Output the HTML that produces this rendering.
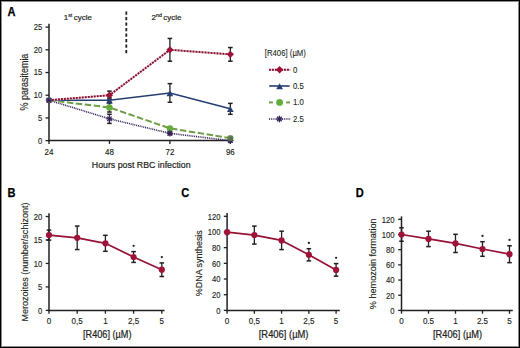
<!DOCTYPE html>
<html><head><meta charset="utf-8"><style>
html,body{margin:0;padding:0;background:#fff;}
svg{display:block;font-family:"Liberation Sans", sans-serif;}
</style></head><body>
<svg width="520" height="348" viewBox="0 0 520 348">
<rect x="0" y="0" width="520" height="348" fill="#fff"/>
<text x="7.5" y="16.1" font-size="11.9" text-anchor="start" font-weight="bold" fill="#000" textLength="7.99" lengthAdjust="spacingAndGlyphs" stroke="#000" stroke-width="0.25">A</text>
<text x="63.8" y="20.3" font-size="8" fill="#231f20" stroke="#231f20" stroke-width="0.2">1<tspan font-size="5.2" dy="-3">st</tspan><tspan dy="3" dx="1.4">cycle</tspan></text>
<text x="151.6" y="20.3" font-size="8" fill="#231f20" stroke="#231f20" stroke-width="0.2">2<tspan font-size="5.2" dy="-3">nd</tspan><tspan dy="3" dx="1.4">cycle</tspan></text>
<line x1="126.30" y1="11.40" x2="126.30" y2="53.50" stroke="#231f20" stroke-width="1.8" stroke-linecap="butt" stroke-dasharray="3.4 2.1"/>
<line x1="49.00" y1="23.80" x2="49.00" y2="141.40" stroke="#231f20" stroke-width="1.5" stroke-linecap="butt"/>
<line x1="48.25" y1="140.62" x2="230.80" y2="140.62" stroke="#231f20" stroke-width="1.5" stroke-linecap="butt"/>
<line x1="45.50" y1="140.62" x2="49.00" y2="140.62" stroke="#231f20" stroke-width="1.3" stroke-linecap="butt"/>
<text x="42.3" y="143.52" font-size="8.3" text-anchor="end" font-weight="normal" fill="#231f20" textLength="4.25" lengthAdjust="spacingAndGlyphs" stroke="#231f20" stroke-width="0.14">0</text>
<line x1="45.50" y1="117.92" x2="49.00" y2="117.92" stroke="#231f20" stroke-width="1.3" stroke-linecap="butt"/>
<text x="42.3" y="120.82000000000001" font-size="8.3" text-anchor="end" font-weight="normal" fill="#231f20" textLength="4.25" lengthAdjust="spacingAndGlyphs" stroke="#231f20" stroke-width="0.14">5</text>
<line x1="45.50" y1="95.22" x2="49.00" y2="95.22" stroke="#231f20" stroke-width="1.3" stroke-linecap="butt"/>
<text x="42.3" y="98.12" font-size="8.3" text-anchor="end" font-weight="normal" fill="#231f20" textLength="8.49" lengthAdjust="spacingAndGlyphs" stroke="#231f20" stroke-width="0.14">10</text>
<line x1="45.50" y1="72.52" x2="49.00" y2="72.52" stroke="#231f20" stroke-width="1.3" stroke-linecap="butt"/>
<text x="42.3" y="75.42000000000002" font-size="8.3" text-anchor="end" font-weight="normal" fill="#231f20" textLength="8.49" lengthAdjust="spacingAndGlyphs" stroke="#231f20" stroke-width="0.14">15</text>
<line x1="45.50" y1="49.82" x2="49.00" y2="49.82" stroke="#231f20" stroke-width="1.3" stroke-linecap="butt"/>
<text x="42.3" y="52.720000000000006" font-size="8.3" text-anchor="end" font-weight="normal" fill="#231f20" textLength="8.49" lengthAdjust="spacingAndGlyphs" stroke="#231f20" stroke-width="0.14">20</text>
<line x1="45.50" y1="27.12" x2="49.00" y2="27.12" stroke="#231f20" stroke-width="1.3" stroke-linecap="butt"/>
<text x="42.3" y="30.020000000000003" font-size="8.3" text-anchor="end" font-weight="normal" fill="#231f20" textLength="8.49" lengthAdjust="spacingAndGlyphs" stroke="#231f20" stroke-width="0.14">25</text>
<line x1="49.00" y1="140.65" x2="49.00" y2="143.90" stroke="#231f20" stroke-width="1.3" stroke-linecap="butt"/>
<text x="49.0" y="154.8" font-size="8.6" text-anchor="middle" font-weight="normal" fill="#231f20" textLength="8.8" lengthAdjust="spacingAndGlyphs" stroke="#231f20" stroke-width="0.16">24</text>
<line x1="109.45" y1="140.65" x2="109.45" y2="143.90" stroke="#231f20" stroke-width="1.3" stroke-linecap="butt"/>
<text x="109.45000000000002" y="154.8" font-size="8.6" text-anchor="middle" font-weight="normal" fill="#231f20" textLength="8.8" lengthAdjust="spacingAndGlyphs" stroke="#231f20" stroke-width="0.16">48</text>
<line x1="169.90" y1="140.65" x2="169.90" y2="143.90" stroke="#231f20" stroke-width="1.3" stroke-linecap="butt"/>
<text x="169.90000000000003" y="154.8" font-size="8.6" text-anchor="middle" font-weight="normal" fill="#231f20" textLength="8.8" lengthAdjust="spacingAndGlyphs" stroke="#231f20" stroke-width="0.16">72</text>
<line x1="230.35" y1="140.65" x2="230.35" y2="143.90" stroke="#231f20" stroke-width="1.3" stroke-linecap="butt"/>
<text x="230.35000000000002" y="154.8" font-size="8.6" text-anchor="middle" font-weight="normal" fill="#231f20" textLength="8.8" lengthAdjust="spacingAndGlyphs" stroke="#231f20" stroke-width="0.16">96</text>
<text x="91.8" y="167.6" font-size="9.8" text-anchor="start" font-weight="normal" fill="#231f20" textLength="98.8" lengthAdjust="spacingAndGlyphs" stroke="#231f20" stroke-width="0.22">Hours post RBC infection</text>
<text x="28.2" y="110.6" font-size="10.2" text-anchor="start" font-weight="normal" fill="#231f20" textLength="57.0" lengthAdjust="spacingAndGlyphs" transform="rotate(-90 28.2 110.6)" stroke="#231f20" stroke-width="0.15">% parasitemia</text>
<line x1="49.00" y1="98.85" x2="49.00" y2="101.58" stroke="#231f20" stroke-width="1.3" stroke-linecap="butt"/>
<line x1="46.70" y1="98.85" x2="51.30" y2="98.85" stroke="#231f20" stroke-width="1.5" stroke-linecap="butt"/>
<line x1="46.70" y1="101.58" x2="51.30" y2="101.58" stroke="#231f20" stroke-width="1.5" stroke-linecap="butt"/>
<line x1="109.45" y1="91.12" x2="109.45" y2="99.31" stroke="#231f20" stroke-width="1.3" stroke-linecap="butt"/>
<line x1="107.15" y1="91.12" x2="111.75" y2="91.12" stroke="#231f20" stroke-width="1.5" stroke-linecap="butt"/>
<line x1="107.15" y1="99.31" x2="111.75" y2="99.31" stroke="#231f20" stroke-width="1.5" stroke-linecap="butt"/>
<line x1="169.90" y1="38.45" x2="169.90" y2="61.20" stroke="#231f20" stroke-width="1.3" stroke-linecap="butt"/>
<line x1="167.60" y1="38.45" x2="172.20" y2="38.45" stroke="#231f20" stroke-width="1.5" stroke-linecap="butt"/>
<line x1="167.60" y1="61.20" x2="172.20" y2="61.20" stroke="#231f20" stroke-width="1.5" stroke-linecap="butt"/>
<line x1="230.35" y1="47.53" x2="230.35" y2="61.19" stroke="#231f20" stroke-width="1.3" stroke-linecap="butt"/>
<line x1="228.05" y1="47.53" x2="232.65" y2="47.53" stroke="#231f20" stroke-width="1.5" stroke-linecap="butt"/>
<line x1="228.05" y1="61.19" x2="232.65" y2="61.19" stroke="#231f20" stroke-width="1.5" stroke-linecap="butt"/>
<line x1="49.00" y1="98.85" x2="49.00" y2="101.58" stroke="#231f20" stroke-width="1.3" stroke-linecap="butt"/>
<line x1="46.70" y1="98.85" x2="51.30" y2="98.85" stroke="#231f20" stroke-width="1.5" stroke-linecap="butt"/>
<line x1="46.70" y1="101.58" x2="51.30" y2="101.58" stroke="#231f20" stroke-width="1.5" stroke-linecap="butt"/>
<line x1="109.45" y1="97.94" x2="109.45" y2="102.49" stroke="#231f20" stroke-width="1.3" stroke-linecap="butt"/>
<line x1="107.15" y1="97.94" x2="111.75" y2="97.94" stroke="#231f20" stroke-width="1.5" stroke-linecap="butt"/>
<line x1="107.15" y1="102.49" x2="111.75" y2="102.49" stroke="#231f20" stroke-width="1.5" stroke-linecap="butt"/>
<line x1="169.90" y1="83.62" x2="169.90" y2="102.28" stroke="#231f20" stroke-width="1.3" stroke-linecap="butt"/>
<line x1="167.60" y1="83.62" x2="172.20" y2="83.62" stroke="#231f20" stroke-width="1.5" stroke-linecap="butt"/>
<line x1="167.60" y1="102.28" x2="172.20" y2="102.28" stroke="#231f20" stroke-width="1.5" stroke-linecap="butt"/>
<line x1="230.35" y1="103.38" x2="230.35" y2="114.30" stroke="#231f20" stroke-width="1.3" stroke-linecap="butt"/>
<line x1="228.05" y1="103.38" x2="232.65" y2="103.38" stroke="#231f20" stroke-width="1.5" stroke-linecap="butt"/>
<line x1="228.05" y1="114.30" x2="232.65" y2="114.30" stroke="#231f20" stroke-width="1.5" stroke-linecap="butt"/>
<line x1="49.00" y1="98.85" x2="49.00" y2="101.58" stroke="#231f20" stroke-width="1.3" stroke-linecap="butt"/>
<line x1="46.70" y1="98.85" x2="51.30" y2="98.85" stroke="#231f20" stroke-width="1.5" stroke-linecap="butt"/>
<line x1="46.70" y1="101.58" x2="51.30" y2="101.58" stroke="#231f20" stroke-width="1.5" stroke-linecap="butt"/>
<line x1="109.45" y1="102.93" x2="109.45" y2="112.03" stroke="#231f20" stroke-width="1.3" stroke-linecap="butt"/>
<line x1="107.15" y1="102.93" x2="111.75" y2="102.93" stroke="#231f20" stroke-width="1.5" stroke-linecap="butt"/>
<line x1="107.15" y1="112.03" x2="111.75" y2="112.03" stroke="#231f20" stroke-width="1.5" stroke-linecap="butt"/>
<line x1="169.90" y1="127.00" x2="169.90" y2="129.73" stroke="#231f20" stroke-width="1.3" stroke-linecap="butt"/>
<line x1="167.60" y1="127.00" x2="172.20" y2="127.00" stroke="#231f20" stroke-width="1.5" stroke-linecap="butt"/>
<line x1="167.60" y1="129.73" x2="172.20" y2="129.73" stroke="#231f20" stroke-width="1.5" stroke-linecap="butt"/>
<line x1="230.35" y1="137.21" x2="230.35" y2="139.03" stroke="#231f20" stroke-width="1.3" stroke-linecap="butt"/>
<line x1="228.05" y1="137.21" x2="232.65" y2="137.21" stroke="#231f20" stroke-width="1.5" stroke-linecap="butt"/>
<line x1="228.05" y1="139.03" x2="232.65" y2="139.03" stroke="#231f20" stroke-width="1.5" stroke-linecap="butt"/>
<line x1="49.00" y1="98.85" x2="49.00" y2="101.58" stroke="#231f20" stroke-width="1.3" stroke-linecap="butt"/>
<line x1="46.70" y1="98.85" x2="51.30" y2="98.85" stroke="#231f20" stroke-width="1.5" stroke-linecap="butt"/>
<line x1="46.70" y1="101.58" x2="51.30" y2="101.58" stroke="#231f20" stroke-width="1.5" stroke-linecap="butt"/>
<line x1="109.45" y1="114.28" x2="109.45" y2="123.38" stroke="#231f20" stroke-width="1.3" stroke-linecap="butt"/>
<line x1="107.15" y1="114.28" x2="111.75" y2="114.28" stroke="#231f20" stroke-width="1.5" stroke-linecap="butt"/>
<line x1="107.15" y1="123.38" x2="111.75" y2="123.38" stroke="#231f20" stroke-width="1.5" stroke-linecap="butt"/>
<line x1="169.90" y1="131.99" x2="169.90" y2="134.72" stroke="#231f20" stroke-width="1.3" stroke-linecap="butt"/>
<line x1="167.60" y1="131.99" x2="172.20" y2="131.99" stroke="#231f20" stroke-width="1.5" stroke-linecap="butt"/>
<line x1="167.60" y1="134.72" x2="172.20" y2="134.72" stroke="#231f20" stroke-width="1.5" stroke-linecap="butt"/>
<line x1="230.35" y1="139.25" x2="230.35" y2="141.99" stroke="#231f20" stroke-width="1.3" stroke-linecap="butt"/>
<line x1="228.05" y1="139.25" x2="232.65" y2="139.25" stroke="#231f20" stroke-width="1.5" stroke-linecap="butt"/>
<line x1="228.05" y1="141.99" x2="232.65" y2="141.99" stroke="#231f20" stroke-width="1.5" stroke-linecap="butt"/>
<polyline points="49.00,100.21 109.45,118.83 169.90,133.36 230.35,140.62" fill="none" stroke="#36235a" stroke-width="1.6" stroke-linejoin="round" stroke-dasharray="1.0 0.85"/>
<polyline points="49.00,100.21 109.45,107.48 169.90,128.36 230.35,138.12" fill="none" stroke="#6f9d48" stroke-width="2.0" stroke-linejoin="round" stroke-dasharray="6.5 2.5"/>
<polyline points="49.00,100.21 109.45,100.21 169.90,92.95 230.35,108.84" fill="none" stroke="#263f70" stroke-width="1.6" stroke-linejoin="round"/>
<polyline points="49.00,100.21 109.45,95.22 169.90,49.82 230.35,54.36" fill="none" stroke="#f0c0cb" stroke-width="1.9" stroke-linejoin="round"/>
<polyline points="49.00,100.21 109.45,95.22 169.90,49.82 230.35,54.36" fill="none" stroke="#7f1131" stroke-width="1.9" stroke-linejoin="round" stroke-dasharray="1.9 1.1"/>
<polygon points="109.45,91.62 113.05,95.22 109.45,98.82 105.85,95.22" fill="#9e1337"/>
<polygon points="169.90,46.22 173.50,49.82 169.90,53.42 166.30,49.82" fill="#9e1337"/>
<polygon points="230.35,50.76 233.95,54.36 230.35,57.96 226.75,54.36" fill="#9e1337"/>
<polygon points="109.45,97.51 112.85,103.41 106.05,103.41" fill="#263f70"/>
<polygon points="169.90,90.25 173.30,96.15 166.50,96.15" fill="#263f70"/>
<polygon points="230.35,106.14 233.75,112.04 226.95,112.04" fill="#263f70"/>
<circle cx="109.45" cy="107.48" r="3.2" fill="#64ad3c"/>
<circle cx="169.90" cy="128.36" r="3.2" fill="#64ad3c"/>
<circle cx="49.00" cy="100.21" r="2.9" fill="#8a8a92"/>
<line x1="45.80" y1="100.21" x2="52.20" y2="100.21" stroke="#36235a" stroke-width="1.2" stroke-linecap="butt"/>
<line x1="46.74" y1="97.95" x2="51.26" y2="102.48" stroke="#36235a" stroke-width="1.2" stroke-linecap="butt"/>
<line x1="49.00" y1="97.01" x2="49.00" y2="103.41" stroke="#36235a" stroke-width="1.2" stroke-linecap="butt"/>
<line x1="51.26" y1="97.95" x2="46.74" y2="102.48" stroke="#36235a" stroke-width="1.2" stroke-linecap="butt"/>
<line x1="106.25" y1="118.83" x2="112.65" y2="118.83" stroke="#36235a" stroke-width="1.2" stroke-linecap="butt"/>
<line x1="107.19" y1="116.57" x2="111.71" y2="121.09" stroke="#36235a" stroke-width="1.2" stroke-linecap="butt"/>
<line x1="109.45" y1="115.63" x2="109.45" y2="122.03" stroke="#36235a" stroke-width="1.2" stroke-linecap="butt"/>
<line x1="111.71" y1="116.57" x2="107.19" y2="121.09" stroke="#36235a" stroke-width="1.2" stroke-linecap="butt"/>
<line x1="166.70" y1="133.36" x2="173.10" y2="133.36" stroke="#36235a" stroke-width="1.2" stroke-linecap="butt"/>
<line x1="167.64" y1="131.09" x2="172.16" y2="135.62" stroke="#36235a" stroke-width="1.2" stroke-linecap="butt"/>
<line x1="169.90" y1="130.16" x2="169.90" y2="136.56" stroke="#36235a" stroke-width="1.2" stroke-linecap="butt"/>
<line x1="172.16" y1="131.09" x2="167.64" y2="135.62" stroke="#36235a" stroke-width="1.2" stroke-linecap="butt"/>
<line x1="227.15" y1="140.62" x2="233.55" y2="140.62" stroke="#36235a" stroke-width="1.2" stroke-linecap="butt"/>
<line x1="228.09" y1="138.36" x2="232.61" y2="142.88" stroke="#36235a" stroke-width="1.2" stroke-linecap="butt"/>
<line x1="230.35" y1="137.42" x2="230.35" y2="143.82" stroke="#36235a" stroke-width="1.2" stroke-linecap="butt"/>
<line x1="232.61" y1="138.36" x2="228.09" y2="142.88" stroke="#36235a" stroke-width="1.2" stroke-linecap="butt"/>
<circle cx="230.35" cy="138.12" r="3.2" fill="#5e7d4a" fill-opacity="0.85"/>
<text x="264.8" y="56.4" font-size="8.8" text-anchor="start" font-weight="normal" fill="#231f20" textLength="41.1" lengthAdjust="spacingAndGlyphs" stroke="#231f20" stroke-width="0.1">[R406] (µM)</text>
<line x1="269.00" y1="69.80" x2="290.20" y2="69.80" stroke="#f0c0cb" stroke-width="1.9" stroke-linecap="butt"/>
<line x1="269.00" y1="69.80" x2="290.20" y2="69.80" stroke="#7f1131" stroke-width="1.9" stroke-linecap="butt" stroke-dasharray="1.9 1.1"/>
<polygon points="279.60,66.10 283.30,69.80 279.60,73.50 275.90,69.80" fill="#9e1337"/>
<text x="292.9" y="72.5" font-size="8.2" text-anchor="start" font-weight="normal" fill="#231f20" textLength="4.33" lengthAdjust="spacingAndGlyphs" stroke="#231f20" stroke-width="0.1">0</text>
<line x1="269.20" y1="86.00" x2="289.60" y2="86.00" stroke="#263f70" stroke-width="1.6" stroke-linecap="butt"/>
<polygon points="279.60,83.30 283.00,89.20 276.20,89.20" fill="#263f70"/>
<text x="292.9" y="88.7" font-size="8.2" text-anchor="start" font-weight="normal" fill="#231f20" textLength="10.83" lengthAdjust="spacingAndGlyphs" stroke="#231f20" stroke-width="0.1">0.5</text>
<line x1="269.00" y1="102.40" x2="272.90" y2="102.40" stroke="#6f9d48" stroke-width="2.0" stroke-linecap="butt"/>
<line x1="286.10" y1="102.40" x2="290.00" y2="102.40" stroke="#6f9d48" stroke-width="2.0" stroke-linecap="butt"/>
<circle cx="279.60" cy="102.40" r="3.4" fill="#64ad3c"/>
<text x="292.9" y="105.10000000000001" font-size="8.2" text-anchor="start" font-weight="normal" fill="#231f20" textLength="10.83" lengthAdjust="spacingAndGlyphs" stroke="#231f20" stroke-width="0.1">1.0</text>
<line x1="269.00" y1="119.00" x2="290.20" y2="119.00" stroke="#36235a" stroke-width="1.6" stroke-linecap="butt" stroke-dasharray="1.0 0.85"/>
<line x1="276.10" y1="119.00" x2="282.70" y2="119.00" stroke="#36235a" stroke-width="1.3" stroke-linecap="butt"/>
<line x1="277.07" y1="116.67" x2="281.73" y2="121.33" stroke="#36235a" stroke-width="1.3" stroke-linecap="butt"/>
<line x1="279.40" y1="115.70" x2="279.40" y2="122.30" stroke="#36235a" stroke-width="1.3" stroke-linecap="butt"/>
<line x1="281.73" y1="116.67" x2="277.07" y2="121.33" stroke="#36235a" stroke-width="1.3" stroke-linecap="butt"/>
<text x="292.9" y="121.7" font-size="8.2" text-anchor="start" font-weight="normal" fill="#231f20" textLength="10.83" lengthAdjust="spacingAndGlyphs" stroke="#231f20" stroke-width="0.1">2.5</text>
<text x="7.6" y="196.6" font-size="11.9" text-anchor="start" font-weight="bold" fill="#000" textLength="7.99" lengthAdjust="spacingAndGlyphs" stroke="#000" stroke-width="0.25">B</text>
<line x1="49.00" y1="213.30" x2="49.00" y2="311.15" stroke="#231f20" stroke-width="1.5" stroke-linecap="butt"/>
<line x1="48.30" y1="310.40" x2="164.50" y2="310.40" stroke="#231f20" stroke-width="1.5" stroke-linecap="butt"/>
<line x1="45.70" y1="310.40" x2="49.00" y2="310.40" stroke="#231f20" stroke-width="1.3" stroke-linecap="butt"/>
<text x="42.2" y="313.7" font-size="8.3" text-anchor="end" font-weight="normal" fill="#231f20" textLength="4.25" lengthAdjust="spacingAndGlyphs" stroke="#231f20" stroke-width="0.14">0</text>
<line x1="45.70" y1="286.92" x2="49.00" y2="286.92" stroke="#231f20" stroke-width="1.3" stroke-linecap="butt"/>
<text x="42.2" y="290.22499999999997" font-size="8.3" text-anchor="end" font-weight="normal" fill="#231f20" textLength="4.25" lengthAdjust="spacingAndGlyphs" stroke="#231f20" stroke-width="0.14">5</text>
<line x1="45.70" y1="263.45" x2="49.00" y2="263.45" stroke="#231f20" stroke-width="1.3" stroke-linecap="butt"/>
<text x="42.2" y="266.75" font-size="8.3" text-anchor="end" font-weight="normal" fill="#231f20" textLength="8.49" lengthAdjust="spacingAndGlyphs" stroke="#231f20" stroke-width="0.14">10</text>
<line x1="45.70" y1="239.97" x2="49.00" y2="239.97" stroke="#231f20" stroke-width="1.3" stroke-linecap="butt"/>
<text x="42.2" y="243.27499999999998" font-size="8.3" text-anchor="end" font-weight="normal" fill="#231f20" textLength="8.49" lengthAdjust="spacingAndGlyphs" stroke="#231f20" stroke-width="0.14">15</text>
<line x1="45.70" y1="216.50" x2="49.00" y2="216.50" stroke="#231f20" stroke-width="1.3" stroke-linecap="butt"/>
<text x="42.2" y="219.79999999999998" font-size="8.3" text-anchor="end" font-weight="normal" fill="#231f20" textLength="8.49" lengthAdjust="spacingAndGlyphs" stroke="#231f20" stroke-width="0.14">20</text>
<line x1="49.00" y1="310.40" x2="49.00" y2="313.70" stroke="#231f20" stroke-width="1.3" stroke-linecap="butt"/>
<text x="49.0" y="324.1" font-size="8.5" text-anchor="middle" font-weight="normal" fill="#231f20" textLength="4.49" lengthAdjust="spacingAndGlyphs" stroke="#231f20" stroke-width="0.14">0</text>
<line x1="77.20" y1="310.40" x2="77.20" y2="313.70" stroke="#231f20" stroke-width="1.3" stroke-linecap="butt"/>
<text x="77.2" y="324.1" font-size="8.5" text-anchor="middle" font-weight="normal" fill="#231f20" textLength="11.22" lengthAdjust="spacingAndGlyphs" stroke="#231f20" stroke-width="0.14">0,5</text>
<line x1="105.40" y1="310.40" x2="105.40" y2="313.70" stroke="#231f20" stroke-width="1.3" stroke-linecap="butt"/>
<text x="105.4" y="324.1" font-size="8.5" text-anchor="middle" font-weight="normal" fill="#231f20" textLength="4.49" lengthAdjust="spacingAndGlyphs" stroke="#231f20" stroke-width="0.14">1</text>
<line x1="133.60" y1="310.40" x2="133.60" y2="313.70" stroke="#231f20" stroke-width="1.3" stroke-linecap="butt"/>
<text x="133.6" y="324.1" font-size="8.5" text-anchor="middle" font-weight="normal" fill="#231f20" textLength="11.22" lengthAdjust="spacingAndGlyphs" stroke="#231f20" stroke-width="0.14">2,5</text>
<line x1="161.80" y1="310.40" x2="161.80" y2="313.70" stroke="#231f20" stroke-width="1.3" stroke-linecap="butt"/>
<text x="161.8" y="324.1" font-size="8.5" text-anchor="middle" font-weight="normal" fill="#231f20" textLength="4.49" lengthAdjust="spacingAndGlyphs" stroke="#231f20" stroke-width="0.14">5</text>
<text x="83" y="338.3" font-size="10" text-anchor="start" font-weight="normal" fill="#231f20" textLength="48.5" lengthAdjust="spacingAndGlyphs" stroke="#231f20" stroke-width="0.22">[R406] (µM)</text>
<text x="28.0" y="321.5" font-size="9.9" text-anchor="start" font-weight="normal" fill="#231f20" textLength="119.0" lengthAdjust="spacingAndGlyphs" transform="rotate(-90 28.0 321.5)" stroke="#231f20" stroke-width="0.14">Merozoites (number/schizont)</text>
<line x1="49.00" y1="230.10" x2="49.00" y2="240.10" stroke="#231f20" stroke-width="1.3" stroke-linecap="butt"/>
<line x1="46.70" y1="230.10" x2="51.30" y2="230.10" stroke="#231f20" stroke-width="1.5" stroke-linecap="butt"/>
<line x1="46.70" y1="240.10" x2="51.30" y2="240.10" stroke="#231f20" stroke-width="1.5" stroke-linecap="butt"/>
<line x1="77.20" y1="226.05" x2="77.20" y2="249.55" stroke="#231f20" stroke-width="1.3" stroke-linecap="butt"/>
<line x1="74.90" y1="226.05" x2="79.50" y2="226.05" stroke="#231f20" stroke-width="1.5" stroke-linecap="butt"/>
<line x1="74.90" y1="249.55" x2="79.50" y2="249.55" stroke="#231f20" stroke-width="1.5" stroke-linecap="butt"/>
<line x1="105.40" y1="235.30" x2="105.40" y2="251.30" stroke="#231f20" stroke-width="1.3" stroke-linecap="butt"/>
<line x1="103.10" y1="235.30" x2="107.70" y2="235.30" stroke="#231f20" stroke-width="1.5" stroke-linecap="butt"/>
<line x1="103.10" y1="251.30" x2="107.70" y2="251.30" stroke="#231f20" stroke-width="1.5" stroke-linecap="butt"/>
<line x1="133.60" y1="251.60" x2="133.60" y2="262.40" stroke="#231f20" stroke-width="1.3" stroke-linecap="butt"/>
<line x1="131.30" y1="251.60" x2="135.90" y2="251.60" stroke="#231f20" stroke-width="1.5" stroke-linecap="butt"/>
<line x1="131.30" y1="262.40" x2="135.90" y2="262.40" stroke="#231f20" stroke-width="1.5" stroke-linecap="butt"/>
<line x1="161.80" y1="262.90" x2="161.80" y2="276.50" stroke="#231f20" stroke-width="1.3" stroke-linecap="butt"/>
<line x1="159.50" y1="262.90" x2="164.10" y2="262.90" stroke="#231f20" stroke-width="1.5" stroke-linecap="butt"/>
<line x1="159.50" y1="276.50" x2="164.10" y2="276.50" stroke="#231f20" stroke-width="1.5" stroke-linecap="butt"/>
<polyline points="49.00,235.10 77.20,237.80 105.40,243.30 133.60,257.00 161.80,269.70" fill="none" stroke="#961236" stroke-width="1.75" stroke-linejoin="round"/>
<circle cx="49.00" cy="235.10" r="3.1" fill="#9e1337"/>
<circle cx="77.20" cy="237.80" r="3.1" fill="#9e1337"/>
<circle cx="105.40" cy="243.30" r="3.1" fill="#9e1337"/>
<circle cx="133.60" cy="257.00" r="3.1" fill="#9e1337"/>
<circle cx="161.80" cy="269.70" r="3.1" fill="#9e1337"/>
<circle cx="133.60" cy="245.80" r="1.15" fill="#231f20"/>
<circle cx="161.80" cy="257.10" r="1.15" fill="#231f20"/>
<text x="181.2" y="196.6" font-size="11.9" text-anchor="start" font-weight="bold" fill="#000" textLength="7.99" lengthAdjust="spacingAndGlyphs" stroke="#000" stroke-width="0.25">C</text>
<line x1="227.10" y1="213.10" x2="227.10" y2="311.15" stroke="#231f20" stroke-width="1.5" stroke-linecap="butt"/>
<line x1="226.40" y1="310.40" x2="339.80" y2="310.40" stroke="#231f20" stroke-width="1.5" stroke-linecap="butt"/>
<line x1="223.80" y1="310.40" x2="227.10" y2="310.40" stroke="#231f20" stroke-width="1.3" stroke-linecap="butt"/>
<text x="220.6" y="313.7" font-size="8.3" text-anchor="end" font-weight="normal" fill="#231f20" textLength="4.25" lengthAdjust="spacingAndGlyphs" stroke="#231f20" stroke-width="0.14">0</text>
<line x1="223.80" y1="294.72" x2="227.10" y2="294.72" stroke="#231f20" stroke-width="1.3" stroke-linecap="butt"/>
<text x="220.6" y="298.01599999999996" font-size="8.3" text-anchor="end" font-weight="normal" fill="#231f20" textLength="8.49" lengthAdjust="spacingAndGlyphs" stroke="#231f20" stroke-width="0.14">20</text>
<line x1="223.80" y1="279.03" x2="227.10" y2="279.03" stroke="#231f20" stroke-width="1.3" stroke-linecap="butt"/>
<text x="220.6" y="282.332" font-size="8.3" text-anchor="end" font-weight="normal" fill="#231f20" textLength="8.49" lengthAdjust="spacingAndGlyphs" stroke="#231f20" stroke-width="0.14">40</text>
<line x1="223.80" y1="263.35" x2="227.10" y2="263.35" stroke="#231f20" stroke-width="1.3" stroke-linecap="butt"/>
<text x="220.6" y="266.64799999999997" font-size="8.3" text-anchor="end" font-weight="normal" fill="#231f20" textLength="8.49" lengthAdjust="spacingAndGlyphs" stroke="#231f20" stroke-width="0.14">60</text>
<line x1="223.80" y1="247.66" x2="227.10" y2="247.66" stroke="#231f20" stroke-width="1.3" stroke-linecap="butt"/>
<text x="220.6" y="250.964" font-size="8.3" text-anchor="end" font-weight="normal" fill="#231f20" textLength="8.49" lengthAdjust="spacingAndGlyphs" stroke="#231f20" stroke-width="0.14">80</text>
<line x1="223.80" y1="231.98" x2="227.10" y2="231.98" stroke="#231f20" stroke-width="1.3" stroke-linecap="butt"/>
<text x="220.6" y="235.27999999999997" font-size="8.3" text-anchor="end" font-weight="normal" fill="#231f20" textLength="12.74" lengthAdjust="spacingAndGlyphs" stroke="#231f20" stroke-width="0.14">100</text>
<line x1="223.80" y1="216.30" x2="227.10" y2="216.30" stroke="#231f20" stroke-width="1.3" stroke-linecap="butt"/>
<text x="220.6" y="219.596" font-size="8.3" text-anchor="end" font-weight="normal" fill="#231f20" textLength="12.74" lengthAdjust="spacingAndGlyphs" stroke="#231f20" stroke-width="0.14">120</text>
<line x1="227.10" y1="310.40" x2="227.10" y2="313.70" stroke="#231f20" stroke-width="1.3" stroke-linecap="butt"/>
<text x="227.1" y="324.1" font-size="8.5" text-anchor="middle" font-weight="normal" fill="#231f20" textLength="4.49" lengthAdjust="spacingAndGlyphs" stroke="#231f20" stroke-width="0.14">0</text>
<line x1="254.35" y1="310.40" x2="254.35" y2="313.70" stroke="#231f20" stroke-width="1.3" stroke-linecap="butt"/>
<text x="254.35" y="324.1" font-size="8.5" text-anchor="middle" font-weight="normal" fill="#231f20" textLength="11.22" lengthAdjust="spacingAndGlyphs" stroke="#231f20" stroke-width="0.14">0,5</text>
<line x1="281.60" y1="310.40" x2="281.60" y2="313.70" stroke="#231f20" stroke-width="1.3" stroke-linecap="butt"/>
<text x="281.6" y="324.1" font-size="8.5" text-anchor="middle" font-weight="normal" fill="#231f20" textLength="4.49" lengthAdjust="spacingAndGlyphs" stroke="#231f20" stroke-width="0.14">1</text>
<line x1="308.85" y1="310.40" x2="308.85" y2="313.70" stroke="#231f20" stroke-width="1.3" stroke-linecap="butt"/>
<text x="308.85" y="324.1" font-size="8.5" text-anchor="middle" font-weight="normal" fill="#231f20" textLength="11.22" lengthAdjust="spacingAndGlyphs" stroke="#231f20" stroke-width="0.14">2,5</text>
<line x1="336.10" y1="310.40" x2="336.10" y2="313.70" stroke="#231f20" stroke-width="1.3" stroke-linecap="butt"/>
<text x="336.1" y="324.1" font-size="8.5" text-anchor="middle" font-weight="normal" fill="#231f20" textLength="4.49" lengthAdjust="spacingAndGlyphs" stroke="#231f20" stroke-width="0.14">5</text>
<text x="258.75" y="338.3" font-size="10" text-anchor="start" font-weight="normal" fill="#231f20" textLength="49.75" lengthAdjust="spacingAndGlyphs" stroke="#231f20" stroke-width="0.22">[R406] (µM)</text>
<text x="202.0" y="296.2" font-size="9.2" text-anchor="start" font-weight="normal" fill="#231f20" textLength="66.0" lengthAdjust="spacingAndGlyphs" transform="rotate(-90 202.0 296.2)" stroke="#231f20" stroke-width="0.14">%DNA synthesis</text>
<line x1="254.35" y1="226.10" x2="254.35" y2="244.10" stroke="#231f20" stroke-width="1.3" stroke-linecap="butt"/>
<line x1="252.05" y1="226.10" x2="256.65" y2="226.10" stroke="#231f20" stroke-width="1.5" stroke-linecap="butt"/>
<line x1="252.05" y1="244.10" x2="256.65" y2="244.10" stroke="#231f20" stroke-width="1.5" stroke-linecap="butt"/>
<line x1="281.60" y1="231.20" x2="281.60" y2="249.60" stroke="#231f20" stroke-width="1.3" stroke-linecap="butt"/>
<line x1="279.30" y1="231.20" x2="283.90" y2="231.20" stroke="#231f20" stroke-width="1.5" stroke-linecap="butt"/>
<line x1="279.30" y1="249.60" x2="283.90" y2="249.60" stroke="#231f20" stroke-width="1.5" stroke-linecap="butt"/>
<line x1="308.85" y1="248.70" x2="308.85" y2="260.90" stroke="#231f20" stroke-width="1.3" stroke-linecap="butt"/>
<line x1="306.55" y1="248.70" x2="311.15" y2="248.70" stroke="#231f20" stroke-width="1.5" stroke-linecap="butt"/>
<line x1="306.55" y1="260.90" x2="311.15" y2="260.90" stroke="#231f20" stroke-width="1.5" stroke-linecap="butt"/>
<line x1="336.10" y1="263.60" x2="336.10" y2="276.20" stroke="#231f20" stroke-width="1.3" stroke-linecap="butt"/>
<line x1="333.80" y1="263.60" x2="338.40" y2="263.60" stroke="#231f20" stroke-width="1.5" stroke-linecap="butt"/>
<line x1="333.80" y1="276.20" x2="338.40" y2="276.20" stroke="#231f20" stroke-width="1.5" stroke-linecap="butt"/>
<polyline points="227.10,232.20 254.35,235.10 281.60,240.40 308.85,254.80 336.10,269.90" fill="none" stroke="#961236" stroke-width="1.75" stroke-linejoin="round"/>
<circle cx="227.10" cy="232.20" r="3.1" fill="#9e1337"/>
<circle cx="254.35" cy="235.10" r="3.1" fill="#9e1337"/>
<circle cx="281.60" cy="240.40" r="3.1" fill="#9e1337"/>
<circle cx="308.85" cy="254.80" r="3.1" fill="#9e1337"/>
<circle cx="336.10" cy="269.90" r="3.1" fill="#9e1337"/>
<circle cx="308.85" cy="242.90" r="1.15" fill="#231f20"/>
<circle cx="336.10" cy="257.80" r="1.15" fill="#231f20"/>
<text x="355.8" y="196.6" font-size="11.9" text-anchor="start" font-weight="bold" fill="#000" textLength="7.99" lengthAdjust="spacingAndGlyphs" stroke="#000" stroke-width="0.25">D</text>
<line x1="401.50" y1="216.40" x2="401.50" y2="311.15" stroke="#231f20" stroke-width="1.5" stroke-linecap="butt"/>
<line x1="400.80" y1="310.40" x2="512.80" y2="310.40" stroke="#231f20" stroke-width="1.5" stroke-linecap="butt"/>
<line x1="398.20" y1="310.40" x2="401.50" y2="310.40" stroke="#231f20" stroke-width="1.3" stroke-linecap="butt"/>
<text x="394.6" y="313.7" font-size="8.3" text-anchor="end" font-weight="normal" fill="#231f20" textLength="4.25" lengthAdjust="spacingAndGlyphs" stroke="#231f20" stroke-width="0.14">0</text>
<line x1="398.20" y1="295.22" x2="401.50" y2="295.22" stroke="#231f20" stroke-width="1.3" stroke-linecap="butt"/>
<text x="394.6" y="298.51599999999996" font-size="8.3" text-anchor="end" font-weight="normal" fill="#231f20" textLength="8.49" lengthAdjust="spacingAndGlyphs" stroke="#231f20" stroke-width="0.14">20</text>
<line x1="398.20" y1="280.03" x2="401.50" y2="280.03" stroke="#231f20" stroke-width="1.3" stroke-linecap="butt"/>
<text x="394.6" y="283.332" font-size="8.3" text-anchor="end" font-weight="normal" fill="#231f20" textLength="8.49" lengthAdjust="spacingAndGlyphs" stroke="#231f20" stroke-width="0.14">40</text>
<line x1="398.20" y1="264.85" x2="401.50" y2="264.85" stroke="#231f20" stroke-width="1.3" stroke-linecap="butt"/>
<text x="394.6" y="268.14799999999997" font-size="8.3" text-anchor="end" font-weight="normal" fill="#231f20" textLength="8.49" lengthAdjust="spacingAndGlyphs" stroke="#231f20" stroke-width="0.14">60</text>
<line x1="398.20" y1="249.66" x2="401.50" y2="249.66" stroke="#231f20" stroke-width="1.3" stroke-linecap="butt"/>
<text x="394.6" y="252.964" font-size="8.3" text-anchor="end" font-weight="normal" fill="#231f20" textLength="8.49" lengthAdjust="spacingAndGlyphs" stroke="#231f20" stroke-width="0.14">80</text>
<line x1="398.20" y1="234.48" x2="401.50" y2="234.48" stroke="#231f20" stroke-width="1.3" stroke-linecap="butt"/>
<text x="394.6" y="237.77999999999997" font-size="8.3" text-anchor="end" font-weight="normal" fill="#231f20" textLength="12.74" lengthAdjust="spacingAndGlyphs" stroke="#231f20" stroke-width="0.14">100</text>
<line x1="398.20" y1="219.30" x2="401.50" y2="219.30" stroke="#231f20" stroke-width="1.3" stroke-linecap="butt"/>
<text x="394.6" y="222.596" font-size="8.3" text-anchor="end" font-weight="normal" fill="#231f20" textLength="12.74" lengthAdjust="spacingAndGlyphs" stroke="#231f20" stroke-width="0.14">120</text>
<line x1="401.50" y1="310.40" x2="401.50" y2="313.70" stroke="#231f20" stroke-width="1.3" stroke-linecap="butt"/>
<text x="401.5" y="324.1" font-size="8.5" text-anchor="middle" font-weight="normal" fill="#231f20" textLength="4.49" lengthAdjust="spacingAndGlyphs" stroke="#231f20" stroke-width="0.14">0</text>
<line x1="428.50" y1="310.40" x2="428.50" y2="313.70" stroke="#231f20" stroke-width="1.3" stroke-linecap="butt"/>
<text x="428.5" y="324.1" font-size="8.5" text-anchor="middle" font-weight="normal" fill="#231f20" textLength="11.22" lengthAdjust="spacingAndGlyphs" stroke="#231f20" stroke-width="0.14">0.5</text>
<line x1="455.50" y1="310.40" x2="455.50" y2="313.70" stroke="#231f20" stroke-width="1.3" stroke-linecap="butt"/>
<text x="455.5" y="324.1" font-size="8.5" text-anchor="middle" font-weight="normal" fill="#231f20" textLength="4.49" lengthAdjust="spacingAndGlyphs" stroke="#231f20" stroke-width="0.14">1</text>
<line x1="482.50" y1="310.40" x2="482.50" y2="313.70" stroke="#231f20" stroke-width="1.3" stroke-linecap="butt"/>
<text x="482.5" y="324.1" font-size="8.5" text-anchor="middle" font-weight="normal" fill="#231f20" textLength="11.22" lengthAdjust="spacingAndGlyphs" stroke="#231f20" stroke-width="0.14">2.5</text>
<line x1="509.50" y1="310.40" x2="509.50" y2="313.70" stroke="#231f20" stroke-width="1.3" stroke-linecap="butt"/>
<text x="509.5" y="324.1" font-size="8.5" text-anchor="middle" font-weight="normal" fill="#231f20" textLength="4.49" lengthAdjust="spacingAndGlyphs" stroke="#231f20" stroke-width="0.14">5</text>
<text x="433" y="338.3" font-size="10" text-anchor="start" font-weight="normal" fill="#231f20" textLength="49.2" lengthAdjust="spacingAndGlyphs" stroke="#231f20" stroke-width="0.22">[R406] (µM)</text>
<text x="376.4" y="309.2" font-size="9.3" text-anchor="start" font-weight="normal" fill="#231f20" textLength="90.8" lengthAdjust="spacingAndGlyphs" transform="rotate(-90 376.4 309.2)" stroke="#231f20" stroke-width="0.14">% hemozoin formation</text>
<line x1="401.50" y1="227.75" x2="401.50" y2="241.25" stroke="#231f20" stroke-width="1.3" stroke-linecap="butt"/>
<line x1="399.20" y1="227.75" x2="403.80" y2="227.75" stroke="#231f20" stroke-width="1.5" stroke-linecap="butt"/>
<line x1="399.20" y1="241.25" x2="403.80" y2="241.25" stroke="#231f20" stroke-width="1.5" stroke-linecap="butt"/>
<line x1="428.50" y1="231.20" x2="428.50" y2="246.60" stroke="#231f20" stroke-width="1.3" stroke-linecap="butt"/>
<line x1="426.20" y1="231.20" x2="430.80" y2="231.20" stroke="#231f20" stroke-width="1.5" stroke-linecap="butt"/>
<line x1="426.20" y1="246.60" x2="430.80" y2="246.60" stroke="#231f20" stroke-width="1.5" stroke-linecap="butt"/>
<line x1="455.50" y1="234.30" x2="455.50" y2="252.50" stroke="#231f20" stroke-width="1.3" stroke-linecap="butt"/>
<line x1="453.20" y1="234.30" x2="457.80" y2="234.30" stroke="#231f20" stroke-width="1.5" stroke-linecap="butt"/>
<line x1="453.20" y1="252.50" x2="457.80" y2="252.50" stroke="#231f20" stroke-width="1.5" stroke-linecap="butt"/>
<line x1="482.50" y1="241.70" x2="482.50" y2="256.30" stroke="#231f20" stroke-width="1.3" stroke-linecap="butt"/>
<line x1="480.20" y1="241.70" x2="484.80" y2="241.70" stroke="#231f20" stroke-width="1.5" stroke-linecap="butt"/>
<line x1="480.20" y1="256.30" x2="484.80" y2="256.30" stroke="#231f20" stroke-width="1.5" stroke-linecap="butt"/>
<line x1="509.50" y1="245.75" x2="509.50" y2="262.65" stroke="#231f20" stroke-width="1.3" stroke-linecap="butt"/>
<line x1="507.20" y1="245.75" x2="511.80" y2="245.75" stroke="#231f20" stroke-width="1.5" stroke-linecap="butt"/>
<line x1="507.20" y1="262.65" x2="511.80" y2="262.65" stroke="#231f20" stroke-width="1.5" stroke-linecap="butt"/>
<polyline points="401.50,234.50 428.50,238.90 455.50,243.40 482.50,249.00 509.50,254.20" fill="none" stroke="#961236" stroke-width="1.75" stroke-linejoin="round"/>
<circle cx="401.50" cy="234.50" r="3.1" fill="#9e1337"/>
<circle cx="428.50" cy="238.90" r="3.1" fill="#9e1337"/>
<circle cx="455.50" cy="243.40" r="3.1" fill="#9e1337"/>
<circle cx="482.50" cy="249.00" r="3.1" fill="#9e1337"/>
<circle cx="509.50" cy="254.20" r="3.1" fill="#9e1337"/>
<circle cx="482.50" cy="235.90" r="1.15" fill="#231f20"/>
<circle cx="509.50" cy="239.95" r="1.15" fill="#231f20"/>
<rect x="0.5" y="0.5" width="519" height="347" fill="none" stroke="#000" stroke-width="1"/>
<rect x="1.5" y="1.5" width="517" height="345" fill="none" stroke="#000" stroke-opacity="0.45" stroke-width="1"/>
</svg>
</body></html>
